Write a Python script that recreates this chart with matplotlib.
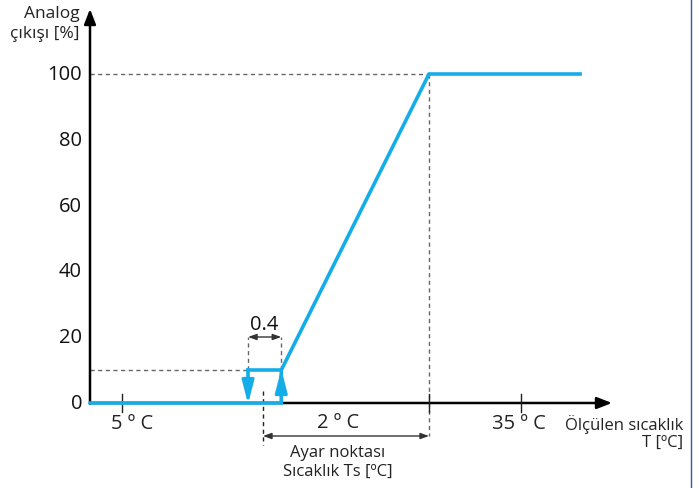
import matplotlib
matplotlib.use("Agg")
import matplotlib.pyplot as plt

plt.rcParams['font.family'] = ['Open Sans', 'DejaVu Sans']

# Data (x in °C relative to setpoint Ts, y in % analog output)
y_ticks = [0, 20, 40, 60, 80, 100]
hyst_low = -0.18      # switch-off point
hyst_high = 0.22      # switch-on point
band_end = 2.0        # end of proportional band (Ts + 2 °C)
line_start = -2.08
line_end = 3.82
low_level = 10
high_level = 100
x_tick_pos = [-1.70, 0.0, 2.0, 3.11]
x_tick_labels = ["5 º C", "", "", "35 º C"]

curve_x = [line_start, hyst_high, hyst_high, band_end, line_end]
curve_y = [0, 0, low_level, high_level, high_level]

BLUE = "#14ade8"
GRAY = "#666666"
NUM_FS = 14.5
LAB_FS = 12

# pixel mapping: px = 263 + 83*x ; py = 404 - 3.29*y
fig = plt.figure(figsize=(6.99, 4.89), dpi=100)
ax = fig.add_axes([0, 0, 1, 1])
ax.set_xlim(-263 / 83, (699 - 263) / 83)
ax.set_ylim((404 - 489) / 3.29, 404 / 3.29)
ax.axis("off")

def px(p):
    return (p - 263) / 83

def py(p):
    return (404 - p) / 3.29

x_axis0 = px(90)
dash = (0, (3, 2.5))

# dashed guides
ax.plot([x_axis0, band_end], [high_level, high_level], ls=dash, color=GRAY, lw=1.0, zorder=1)
ax.plot([band_end, band_end], [high_level, py(437)], ls=dash, color=GRAY, lw=1.0, zorder=1)
ax.plot([x_axis0, hyst_low], [low_level, low_level], ls=dash, color=GRAY, lw=1.0, zorder=1)
ax.plot([hyst_low, hyst_low], [low_level, py(338)], ls=dash, color=GRAY, lw=1.0, zorder=1)
ax.plot([hyst_high, hyst_high], [low_level, py(338)], ls=dash, color=GRAY, lw=1.0, zorder=1)
ax.plot([0, 0], [py(392), py(446)], ls=dash, color="#222222", lw=1.0, zorder=1)

# axes
ax.annotate("", xy=(px(612), 0), xytext=(x_axis0, 0),
            arrowprops=dict(arrowstyle="-|>,head_length=0.9,head_width=0.35", color="black", lw=1.8, shrinkA=0, shrinkB=0), zorder=2)
ax.annotate("", xy=(x_axis0, py(10)), xytext=(x_axis0, py(405)),
            arrowprops=dict(arrowstyle="-|>,head_length=0.9,head_width=0.35", color="black", lw=1.8, shrinkA=0, shrinkB=0), zorder=2)

# x ticks
label_shift_px = {"5 º C": 10, "35 º C": -2}
for xt, lab in zip(x_tick_pos, x_tick_labels):
    if xt != 0.0:
        ax.plot([xt, xt], [py(395), py(413)], color="#222222", lw=1.0, zorder=2)
    if lab:
        ax.text(xt + label_shift_px[lab] / 83, py(424), lab, ha="center", va="center", fontsize=NUM_FS, color="#222222")

# y tick labels
for yt in y_ticks:
    ax.text(px(82), yt, str(yt), ha="right", va="center", fontsize=NUM_FS, color="#111111")

# curve
ax.plot(curve_x, curve_y, color=BLUE, lw=2.6, solid_joinstyle="miter", zorder=3)
ax.plot([hyst_low, hyst_high], [low_level, low_level], color=BLUE, lw=2.6, zorder=3)
ax.plot([hyst_low, hyst_low], [low_level, py(390)], color=BLUE, lw=2.6, zorder=3)
ax.annotate("", xy=(hyst_low, py(405)), xytext=(hyst_low, py(385)),
            arrowprops=dict(arrowstyle="-|>,head_length=1.4,head_width=0.36", color=BLUE, lw=2.2, shrinkA=0, shrinkB=0), zorder=4)
ax.annotate("", xy=(hyst_high, py(370)), xytext=(hyst_high, py(392)),
            arrowprops=dict(arrowstyle="-|>,head_length=1.4,head_width=0.36", color=BLUE, lw=2.2, shrinkA=0, shrinkB=0), zorder=4)

# dimension arrows
ax.annotate("", xy=(hyst_high, py(338)), xytext=(hyst_low, py(338)),
            arrowprops=dict(arrowstyle="<|-|>,head_length=0.5,head_width=0.18", color="#333333", lw=1.0, shrinkA=0, shrinkB=0))
ax.text((hyst_low + hyst_high) / 2, py(325), "0.4", ha="center", va="center", fontsize=NUM_FS, color="#111111")
ax.annotate("", xy=(band_end, py(437)), xytext=(0, py(437)),
            arrowprops=dict(arrowstyle="<|-|>,head_length=0.5,head_width=0.18", color="#333333", lw=1.0, shrinkA=0, shrinkB=0))
ax.text(px(338), py(423), "2 º C", ha="center", va="center", fontsize=NUM_FS, color="#222222")
ax.text(px(338), py(453), "Ayar noktası", ha="center", va="center", fontsize=LAB_FS, color="#222222")
ax.text(px(338), py(472), "Sıcaklık Ts [ºC]", ha="center", va="center", fontsize=LAB_FS, color="#222222")

# axis labels
ax.text(px(80), py(14), "Analog", ha="right", va="center", fontsize=12.5, color="#222222")
ax.text(px(80), py(34), "çıkışı [%]", ha="right", va="center", fontsize=12.5, color="#222222")
ax.text(px(683), py(425), "Ölçülen sıcaklık", ha="right", va="center", fontsize=LAB_FS, color="#222222")
ax.text(px(683), py(443), "T [ºC]", ha="right", va="center", fontsize=LAB_FS, color="#222222")

# right border line
ax.plot([px(691), px(691)], [py(0), py(489)], color="#2a5d9f", lw=1.0)

fig.savefig("out.png", dpi=100)
